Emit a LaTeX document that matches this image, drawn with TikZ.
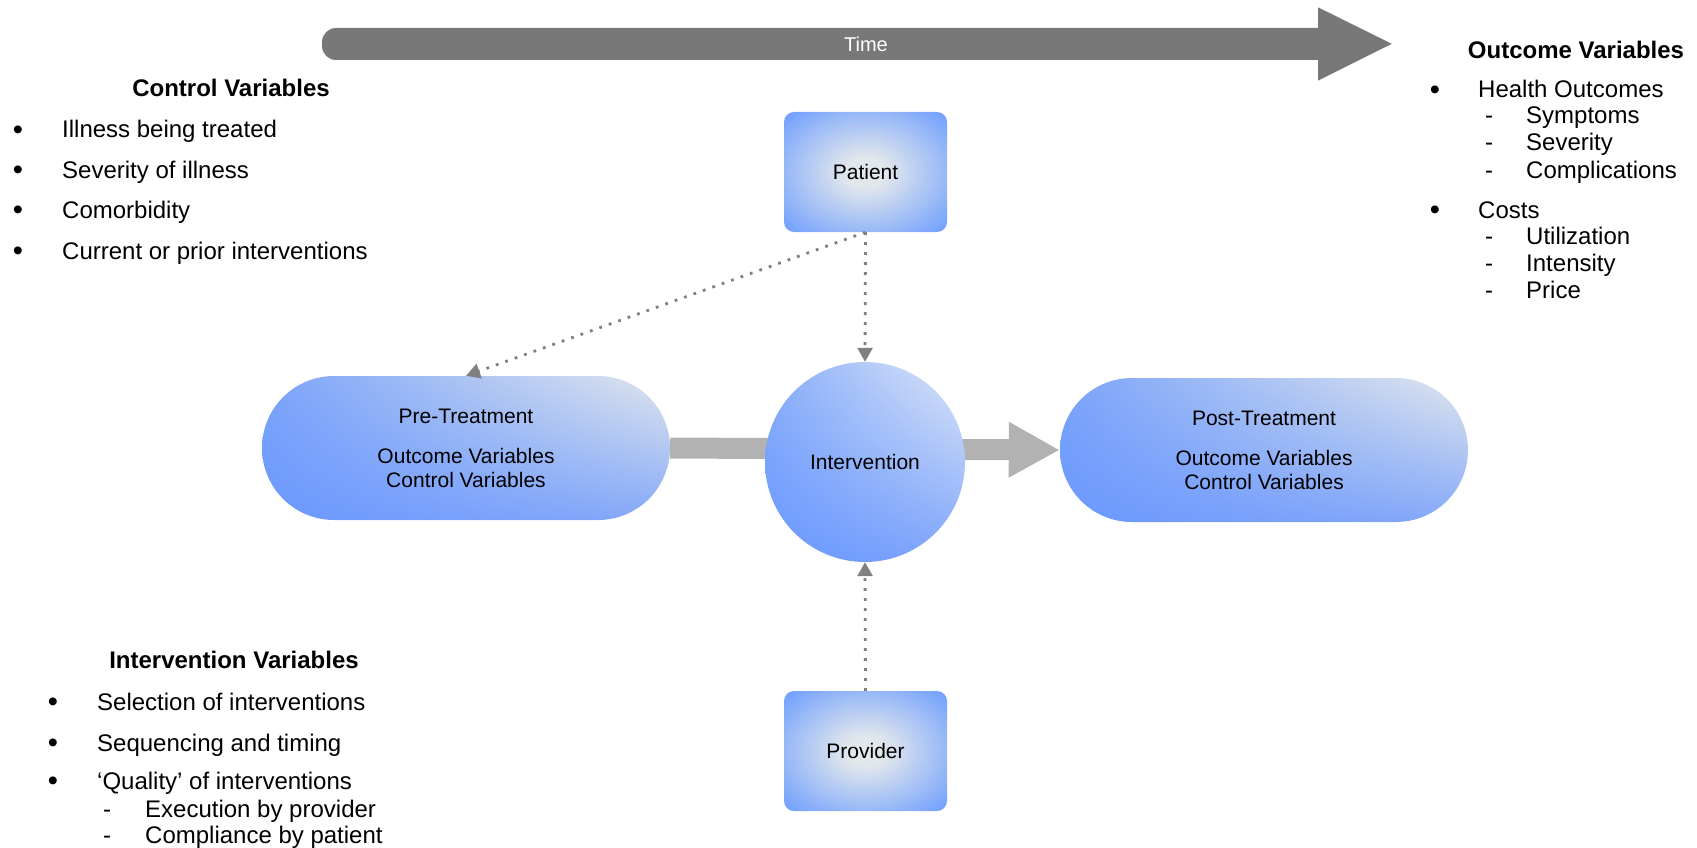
\documentclass[tikz,border=0pt]{standalone}
\usepackage{fontspec}
\setmainfont{Liberation Sans}
\usetikzlibrary{arrows.meta,shapes.misc,shadings}
\definecolor{glowin}{HTML}{E2E7EC}
\definecolor{glowout}{HTML}{6699FF}
\definecolor{pillUL}{HTML}{7BA3FA}
\definecolor{pillUR}{HTML}{E0E6EC}
\definecolor{pillLL}{HTML}{6A98FF}
\definecolor{pillLR}{HTML}{86A9F8}
\definecolor{circUL}{HTML}{8AAEFA}
\definecolor{circUR}{HTML}{DFE7F6}
\definecolor{circLL}{HTML}{6797FF}
\definecolor{circLR}{HTML}{7FA5FB}
\definecolor{timegray}{HTML}{787878}
\definecolor{thickgray}{HTML}{B2B2B2}
\definecolor{dotgray}{HTML}{808080}
\pgfdeclareradialshading{boxglow}{\pgfpoint{0bp}{0bp}}{color(0bp)=(glowin); color(6bp)=(glowin); color(37bp)=(glowout); color(50bp)=(glowout)}

\begin{document}
\begin{tikzpicture}[x=1pt,y=-1pt,
  boxnode/.style={rectangle, rounded corners=10pt, minimum width=163pt, minimum height=120pt,
    shade, shading=boxglow, font=\fontsize{21}{24}\selectfont, inner sep=0pt},
  pill/.style={rounded rectangle, minimum width=408pt, minimum height=144pt, shade,
    upper left=pillUL, upper right=pillUR, lower left=pillLL, lower right=pillLR,
    align=center, font=\fontsize{21}{24}\selectfont, inner sep=0pt},
  circnode/.style={circle, minimum size=200pt, shade,
    upper left=circUL, upper right=circUR, lower left=circLL, lower right=circLR,
    font=\fontsize{21}{24}\selectfont, inner sep=0pt},
  dotarrow/.style={draw=dotgray, line width=2.8pt, dash pattern=on 2.8pt off 7.2pt,
    -{Triangle[length=14pt,width=15pt]}},
  thickarrow/.style={draw=thickgray, line width=21pt, -{Triangle[length=51pt,width=52pt]}},
  listtext/.style={anchor=base west, inner sep=0pt, font=\fontsize{24}{28}\selectfont},
  bul/.style={anchor=base, inner sep=0pt, yshift=-1.5pt, font=\fontsize{29}{30}\selectfont},
  dashmark/.style={anchor=base, inner sep=0pt, font=\fontsize{24}{28}\selectfont},
  heading/.style={anchor=base, inner sep=0pt, font=\bfseries\fontsize{24}{28}\selectfont}
]
\useasboundingbox (0,0) rectangle (1697,848);

% time arrow
\fill[timegray, rounded corners=14pt] (322,28) rectangle (1332,60);
\fill[timegray] (1318,7.3) -- (1391.7,43.8) -- (1318,80.7) -- cycle;
\node[text=white, font=\fontsize{20}{24}\selectfont, inner sep=0pt] (time) at (866,44) {Time};

% main nodes
\node[pill] (pre) at (466,448) {Pre-Treatment\\[16pt]Outcome Variables\\Control Variables};
\node[pill] (post) at (1264,450) {Post-Treatment\\[16pt]Outcome Variables\\Control Variables};
\draw[thickarrow] (pre.east) -- (post.west);
\node[circnode] (interv) at (865,462) {Intervention};
\node[boxnode] (patient) at (865.5,172) {Patient};
\node[boxnode] (provider) at (865.5,751) {Provider};

\draw[dotarrow] (patient.south) -- (interv.north);
\draw[dotarrow] (patient.south) -- (pre.north);
\draw[dotarrow] (provider.north) -- (interv.south);

% control variables
\node[heading] (ch) at (231,97) {Control Variables};
\node[bul] (cb1) at (18,138) {•};
\node[listtext] (c1) at (62,138) {Illness being treated};
\node[bul] (cb2) at (18,178) {•};
\node[listtext] (c2) at (62,178) {Severity of illness};
\node[bul] (cb3) at (18,218) {•};
\node[listtext] (c3) at (62,218) {Comorbidity};
\node[bul] (cb4) at (18,259) {•};
\node[listtext] (c4) at (62,259) {Current or prior interventions};

% outcome variables
\node[heading] (oh) at (1576,59) {Outcome Variables};
\node[bul] (ob1) at (1435,98) {•};
\node[listtext] (o1) at (1478,98) {Health Outcomes};
\node[dashmark] (od1) at (1489,124) {-};
\node[listtext] (o2) at (1526,124) {Symptoms};
\node[dashmark] (od2) at (1489,150) {-};
\node[listtext] (o3) at (1526,150) {Severity};
\node[dashmark] (od3) at (1489,178) {-};
\node[listtext] (o4) at (1526,178) {Complications};
\node[bul] (ob2) at (1435,218) {•};
\node[listtext] (o5) at (1478,218) {Costs};
\node[dashmark] (od4) at (1489,244) {-};
\node[listtext] (o6) at (1526,244) {Utilization};
\node[dashmark] (od5) at (1489,271) {-};
\node[listtext] (o7) at (1526,271) {Intensity};
\node[dashmark] (od6) at (1489,298) {-};
\node[listtext] (o8) at (1526,298) {Price};

% intervention variables
\node[heading] (ih) at (234,668) {Intervention Variables};
\node[bul] (ib1) at (53,710) {•};
\node[listtext] (i1) at (97,710) {Selection of interventions};
\node[bul] (ib2) at (53,751) {•};
\node[listtext] (i2) at (97,751) {Sequencing and timing};
\node[bul] (ib3) at (53,789) {•};
\node[listtext] (i3) at (97,789) {‘Quality’ of interventions};
\node[dashmark] (id1) at (107,817) {-};
\node[listtext] (i4) at (145,817) {Execution by provider};
\node[dashmark] (id2) at (107,843) {-};
\node[listtext] (i5) at (145,843) {Compliance by patient};
\end{tikzpicture}
\end{document}
